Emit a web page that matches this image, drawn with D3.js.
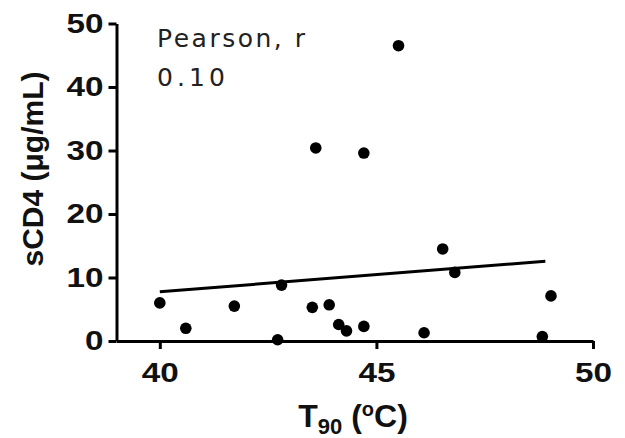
<!DOCTYPE html>
<html>
<head>
<meta charset="utf-8">
<script src="https://cdn.jsdelivr.net/npm/d3@7"></script>
<style>
  html, body { margin: 0; padding: 0; background: #fff; }
  svg { display: block; }
</style>
</head>
<body>
<svg id="chart" width="625" height="438"></svg>
<script>
// Melting temperature (T90) vs soluble CD4 concentration
const t90 = [40.0, 40.6, 41.72, 42.72, 42.81, 43.52, 43.6, 43.91, 44.13, 44.31, 44.71, 44.71, 45.51, 46.1, 46.53, 46.81, 48.83, 49.03];
const scd4 = [6.0, 2.0, 5.5, 0.2, 8.8, 5.3, 30.4, 5.7, 2.6, 1.6, 2.3, 29.6, 46.5, 1.3, 14.5, 10.8, 0.7, 7.1];

// Linear regression line end points
const fitX = [40.0, 48.9];
const fitY = [7.75, 12.55];

const xTicks = [40, 45, 50];
const yTicks = [0, 10, 20, 30, 40, 50];
const pearsonLabel = "Pearson, r";
const pearsonValue = "0.10";

const svg = d3.select("#chart");
const x = d3.scaleLinear().domain([39, 50]).range([116.5, 593]);
const y = d3.scaleLinear().domain([0, 50]).range([341, 23.5]);

const tickFont = "'Liberation Sans', Arial, sans-serif";

// Wide bold numerals for the tick labels
function styleTicks(sel) {
  sel.attr("fill", "#111")
    .style("font-family", tickFont)
    .style("font-weight", "bold")
    .style("font-size", "27px")
    .attr("lengthAdjust", "spacingAndGlyphs")
    .attr("textLength", function () { return this.textContent.length * 18.5; });
}

// Y axis
const yAxis = svg.append("g")
  .attr("transform", `translate(${x.range()[0]},0)`)
  .call(d3.axisLeft(y).tickValues(yTicks).tickSize(8).tickSizeOuter(0).tickPadding(5));
yAxis.select(".domain").attr("stroke", "#000").attr("stroke-width", 3);
yAxis.selectAll(".tick line").attr("stroke", "#000").attr("stroke-width", 3);
yAxis.selectAll(".tick text").call(styleTicks);

// X axis
const xAxis = svg.append("g")
  .attr("transform", `translate(0,${y(0)})`)
  .call(d3.axisBottom(x).tickValues(xTicks).tickSize(8).tickSizeOuter(0).tickPadding(14));
xAxis.select(".domain").attr("stroke", "#000").attr("stroke-width", 3);
xAxis.selectAll(".tick line").attr("stroke", "#000").attr("stroke-width", 3);
xAxis.selectAll(".tick text").call(styleTicks);

// Regression line
svg.append("line")
  .attr("x1", x(fitX[0])).attr("y1", y(fitY[0]))
  .attr("x2", x(fitX[1])).attr("y2", y(fitY[1]))
  .attr("stroke", "#000").attr("stroke-width", 3);

// Data points
svg.append("g").selectAll("circle")
  .data(t90.map((d, i) => [d, scd4[i]]))
  .join("circle")
  .attr("cx", d => x(d[0]))
  .attr("cy", d => y(d[1]))
  .attr("r", 5.8)
  .attr("fill", "#000");

// Correlation annotation
const annFont = "'DejaVu Sans', Verdana, sans-serif";
svg.append("text")
  .attr("x", 157).attr("y", 47)
  .attr("textLength", 148).attr("lengthAdjust", "spacing")
  .style("font-family", annFont).style("font-size", "25px").attr("fill", "#222")
  .text(pearsonLabel);
svg.append("text")
  .attr("x", 157).attr("y", 86)
  .attr("textLength", 68).attr("lengthAdjust", "spacing")
  .style("font-family", annFont).style("font-size", "25px").attr("fill", "#222")
  .text(pearsonValue);

// Y axis title
svg.append("text")
  .attr("transform", "translate(43,169) rotate(-90)")
  .attr("text-anchor", "middle")
  .style("font-family", tickFont).style("font-weight", "bold").style("font-size", "30px")
  .attr("fill", "#111")
  .text("sCD4 (μg/mL)");

// X axis title with subscript and superscript
const xt = svg.append("text")
  .attr("x", 353).attr("y", 427)
  .attr("text-anchor", "middle")
  .style("font-family", tickFont).style("font-weight", "bold").style("font-size", "32px")
  .attr("fill", "#111");
xt.append("tspan").text("T");
xt.append("tspan").attr("dy", 7).style("font-size", "22px").text("90");
xt.append("tspan").attr("dy", -7).text(" (");
xt.append("tspan").attr("dy", -11).style("font-size", "20px").text("o");
xt.append("tspan").attr("dy", 11).text("C)");
</script>
</body>
</html>
